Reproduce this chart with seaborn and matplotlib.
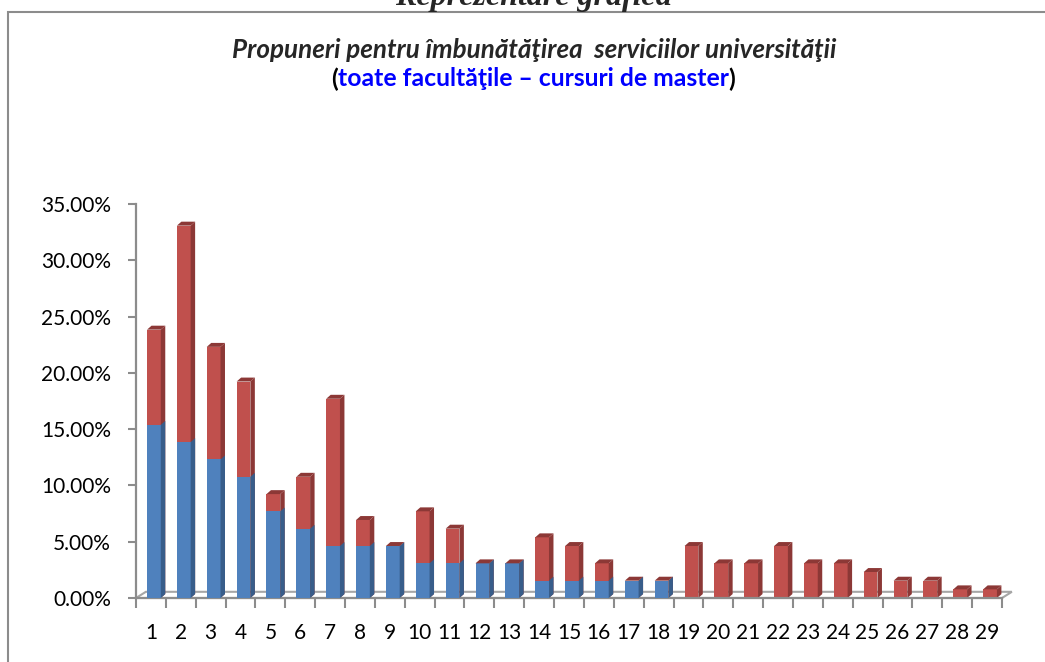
import matplotlib
matplotlib.use("Agg")
import matplotlib.pyplot as plt
from matplotlib.patches import Polygon, Rectangle
from matplotlib.ticker import FuncFormatter
import seaborn as sns
import pandas as pd

# values (fractions)
categories = [str(i) for i in range(1, 30)]
blue_part = [0.1538, 0.1385, 0.1231, 0.1077, 0.0769, 0.0615, 0.0462, 0.0462, 0.0462, 0.0308,
             0.0308, 0.0308, 0.0308, 0.0154, 0.0154, 0.0154, 0.0154, 0.0154, 0.0, 0.0,
             0.0, 0.0, 0.0, 0.0, 0.0, 0.0, 0.0, 0.0, 0.0]
red_part = [0.0846, 0.1923, 0.1000, 0.0846, 0.0154, 0.0462, 0.1308, 0.0231, 0.0, 0.0462,
            0.0308, 0.0, 0.0, 0.0385, 0.0308, 0.0154, 0.0, 0.0, 0.0462, 0.0308,
            0.0308, 0.0462, 0.0308, 0.0308, 0.0231, 0.0154, 0.0154, 0.0077, 0.0077]

BLUE, BLUE_DARK = "#4F81BD", "#385D8A"
RED, RED_DARK = "#C0504D", "#8C3836"
GRAY = "#8C8C8C"

df = pd.DataFrame({"cat": categories, "blue": blue_part, "red": red_part})
df["total"] = df["blue"] + df["red"]

sns.set_theme(style="white")
plt.rcParams["font.family"] = ["Lato", "DejaVu Sans"]

fig = plt.figure(figsize=(10.45, 6.62), dpi=100)
# axes: x from 136 to 1002 px, y from 598 (0%) to 204 (35%)
ax = fig.add_axes([136 / 1045, 64 / 662, 866 / 1045, 394 / 662])

bw = 0.46
sns.barplot(data=df, x="cat", y="total", order=categories, color=RED, width=bw,
            saturation=1, linewidth=0, ax=ax, zorder=2)
n_red = len(ax.patches)
sns.barplot(data=df, x="cat", y="blue", order=categories, color=BLUE, width=bw,
            saturation=1, linewidth=0, ax=ax, zorder=3)

# fake 3d: side and top faces built from the bar patches
dx, dy = 0.15, 0.0035
patches = list(ax.patches)
for i, p in enumerate(patches):
    p.set_x(p.get_x() + 0.1)
    x, w, h = p.get_x(), p.get_width(), p.get_height()
    is_red = i < n_red
    side = Polygon([(x + w, 0), (x + w + dx, dy), (x + w + dx, h + dy), (x + w, h)],
                   closed=True, facecolor=RED_DARK if is_red else BLUE_DARK,
                   edgecolor="none", zorder=2.5 if is_red else 3.5)
    ax.add_patch(side)
    if is_red:
        top = Polygon([(x, h), (x + dx, h + dy), (x + w + dx, h + dy), (x + w, h)],
                      closed=True, facecolor=RED_DARK, edgecolor="none", zorder=4)
        ax.add_patch(top)

n = len(categories)
ax.set_ylim(0, 0.35)
ax.set_xlim(-0.5, n - 0.5)
ax.set_yticks([i * 0.05 for i in range(8)])
ax.yaxis.set_major_formatter(FuncFormatter(lambda v, _: f"{v * 100:.2f}%"))
ax.set_xlabel("")
ax.set_ylabel("")

for s in ["top", "right"]:
    ax.spines[s].set_visible(False)
for s in ["left", "bottom"]:
    ax.spines[s].set_color(GRAY)
    ax.spines[s].set_linewidth(1.6)

ax.tick_params(axis="y", which="major", left=True, direction="out", length=6,
               width=1.5, color=GRAY, labelsize=15, pad=12, labelcolor="black")
ax.tick_params(axis="x", which="major", bottom=False, labelsize=15, pad=12,
               labelcolor="black")
ax.set_xticks(range(n), categories)
ax.set_xticks([i + 0.5 for i in range(-1, n)], minor=True)
ax.tick_params(axis="x", which="minor", bottom=True, direction="out", length=7,
               width=1.5, color=GRAY)

# 3d floor outline
fdx, fdy = 0.33, 0.0055
floor = Polygon([(-0.5, 0), (-0.5 + fdx, fdy), (n - 0.5 + fdx, fdy), (n - 0.5, 0)],
                closed=True, fill=False, edgecolor="#A6A6A6", lw=1.5, zorder=1,
                clip_on=False)
ax.add_patch(floor)

# frame and titles
fig.patches.append(Rectangle((0.008, -0.1), 1.1, 1.082, transform=fig.transFigure,
                             fill=False, edgecolor=GRAY, lw=1.5))
fig.text(0.51, 1 - 5 / 662, "Reprezentare grafică", ha="center", va="baseline",
         fontsize=23, fontweight="bold", fontstyle="italic", family="Liberation Serif")
fig.text(0.511, 1 - 50 / 662, "Propuneri pentru îmbunătăţirea  serviciilor universităţii",
         ha="center", va="center", fontsize=18.7, fontweight="bold", fontstyle="italic")

line2 = [("(", "black"), ("toate facultăţile – cursuri de master", "#0000FF"), (")", "black")]
fig.canvas.draw()
renderer = fig.canvas.get_renderer()
texts = []
for s, c in line2:
    t = fig.text(0, 1 - 79 / 662, s, ha="left", va="center", fontsize=17.8,
                 fontweight="bold", color=c)
    texts.append(t)
widths = [t.get_window_extent(renderer).width for t in texts]
xpos = 0.510 * fig.bbox.width - sum(widths) / 2
for t, wd in zip(texts, widths):
    t.set_x(xpos / fig.bbox.width)
    xpos += wd

fig.savefig("out.png", dpi=100)
